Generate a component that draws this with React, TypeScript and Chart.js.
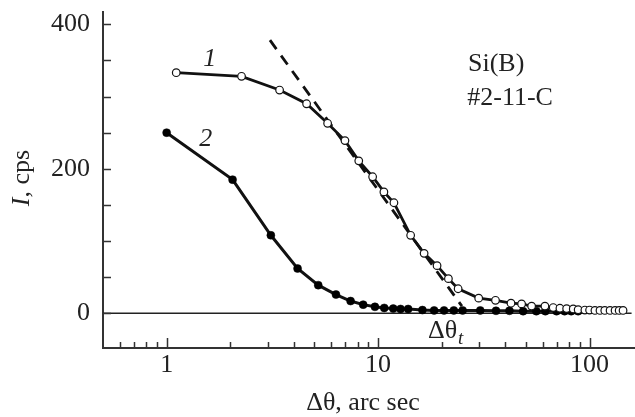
import React, { useEffect, useRef } from "react";
import { Chart, registerables } from "chart.js";

Chart.register(...registerables);

// Curve 1 (open circles)
const curve1X = [1.11, 2.26, 3.42, 4.59, 5.77, 6.97, 8.1, 9.42, 10.65, 11.88, 14.25, 16.5, 19.0, 21.5, 23.9, 29.9, 35.9, 42.5, 47.7, 53.2, 61.5, 67.3, 72.4, 77.9, 83.7, 88.3, 95, 100, 106, 112, 118, 125, 132, 138, 144];
const curve1Y = [333, 328, 309, 290, 263, 239, 211, 189, 168, 153, 108, 83, 66, 48, 34, 21, 18, 14, 13, 10, 10, 8, 7, 6.5, 6, 5, 4.5, 4.5, 4, 4, 4, 4, 4, 4, 4];

// Curve 2 (filled circles)
const curve2X = [1.0, 2.05, 3.11, 4.16, 5.21, 6.32, 7.41, 8.5, 9.66, 10.69, 11.79, 12.77, 13.87, 16.2, 18.4, 20.5, 22.8, 25.1, 30.4, 36.1, 41.8, 48.5, 56, 61.8, 69.8, 76.2, 81.9, 88.3];
const curve2Y = [250, 185, 108, 62, 39, 26, 17, 12, 9, 7.5, 6.5, 6, 6, 4.5, 4, 4, 4, 4, 4, 3.5, 3.5, 3, 3, 3, 3, 3, 3, 3];

// Dashed tangent and zero line
const tangentX = [3.08, 24.9];
const tangentY = [378, 10];
const zeroX = [0.5, 158];
const zeroY = [0, 0];

// Axes
const xMin = 0.5;
const xMax = 164;
const yMin = -48;
const yMax = 417;
const yTicks = [0, 50, 100, 150, 200, 250, 300, 350, 400];
const yLabeled = [0, 200, 400];
const xMajor = [1, 10, 100];
const xMinor = [0.6, 0.7, 0.8, 0.9, 2, 3, 4, 5, 6, 7, 8, 9, 20, 30, 40, 50, 60, 70, 80, 90];

// Annotations (data coordinates)
const label1 = { text: "1", x: 1.6, y: 342 };
const label2 = { text: "2", x: 1.53, y: 231 };
const sample1 = { text: "Si(B)", x: 26.6, y: 335 };
const sample2 = { text: "#2-11-C", x: 26.4, y: 288 };
const thetaT = { x: 17.2, y: -34.6 };

const FONT = '"Liberation Serif", "Times New Roman", serif';
const INK = "#222";

const toPts = (xs: number[], ys: number[]) => xs.map((x, i) => ({ x, y: ys[i] }));

const decor = {
  id: "decor",
  afterDraw(chart: any) {
    const { ctx, chartArea, scales } = chart;
    const xs = scales.x;
    const ys = scales.y;
    ctx.save();
    // inward ticks
    ctx.strokeStyle = "#333";
    ctx.lineWidth = 1.5;
    ctx.beginPath();
    for (const v of yTicks) {
      const py = Math.round(ys.getPixelForValue(v)) + 0.5;
      ctx.moveTo(chartArea.left, py);
      ctx.lineTo(chartArea.left + 8, py);
    }
    for (const v of xMajor) {
      const px = Math.round(xs.getPixelForValue(v)) + 0.5;
      ctx.moveTo(px, chartArea.bottom);
      ctx.lineTo(px, chartArea.bottom - 10);
    }
    for (const v of xMinor) {
      const px = Math.round(xs.getPixelForValue(v)) + 0.5;
      ctx.moveTo(px, chartArea.bottom);
      ctx.lineTo(px, chartArea.bottom - 6);
    }
    ctx.stroke();

    ctx.fillStyle = INK;
    ctx.textBaseline = "alphabetic";
    // curve labels
    ctx.font = `italic 26px ${FONT}`;
    ctx.textAlign = "center";
    ctx.fillText(label1.text, xs.getPixelForValue(label1.x), ys.getPixelForValue(label1.y));
    ctx.fillText(label2.text, xs.getPixelForValue(label2.x), ys.getPixelForValue(label2.y));
    // sample
    ctx.font = `26px ${FONT}`;
    ctx.textAlign = "left";
    ctx.fillText(sample1.text, xs.getPixelForValue(sample1.x), ys.getPixelForValue(sample1.y));
    ctx.fillText(sample2.text, xs.getPixelForValue(sample2.x), ys.getPixelForValue(sample2.y));
    // Δθt
    const tx = xs.getPixelForValue(thetaT.x);
    const ty = ys.getPixelForValue(thetaT.y);
    ctx.font = `26px ${FONT}`;
    ctx.fillText("Δθ", tx, ty);
    const w = ctx.measureText("Δθ").width;
    ctx.font = `italic 19px ${FONT}`;
    ctx.fillText("t", tx + w + 1, ty + 6);

    // x title
    ctx.font = `26px ${FONT}`;
    ctx.textAlign = "center";
    ctx.fillText("Δθ, arc sec", (chartArea.left + chartArea.right) / 2 - 6, 410);

    // y title
    ctx.translate(29, (chartArea.top + chartArea.bottom) / 2 - 2);
    ctx.rotate(-Math.PI / 2);
    ctx.font = `italic 26px ${FONT}`;
    const wI = ctx.measureText("I").width;
    ctx.font = `26px ${FONT}`;
    const wR = ctx.measureText(", cps").width;
    const start = -(wI + wR) / 2;
    ctx.textAlign = "left";
    ctx.font = `italic 26px ${FONT}`;
    ctx.fillText("I", start, 0);
    ctx.font = `26px ${FONT}`;
    ctx.fillText(", cps", start + wI, 0);
    ctx.restore();
  },
};

export default function App() {
  const ref = useRef<HTMLCanvasElement | null>(null);
  useEffect(() => {
    if (!ref.current) return;
    const chart = new Chart(ref.current, {
      type: "scatter",
      data: {
        datasets: [
          {
            data: toPts(curve1X, curve1Y),
            showLine: true,
            borderColor: "#111",
            borderWidth: 2.8,
            pointRadius: 3.8,
            pointBackgroundColor: "#fff",
            pointBorderColor: "#111",
            pointBorderWidth: 1.2,
          },
          {
            data: toPts(curve2X, curve2Y),
            showLine: true,
            borderColor: "#111",
            borderWidth: 3,
            pointRadius: 4,
            pointBackgroundColor: "#000",
            pointBorderColor: "#000",
            pointBorderWidth: 0.5,
          },
          {
            data: toPts(tangentX, tangentY),
            showLine: true,
            borderColor: "#111",
            borderWidth: 2.8,
            borderDash: [11, 8],
            pointRadius: 0,
          },
          {
            data: toPts(zeroX, zeroY),
            showLine: true,
            borderColor: "#222",
            borderWidth: 1.4,
            pointRadius: 0,
          },
        ],
      },
      options: {
        animation: false,
        responsive: false,
        devicePixelRatio: 1,
        layout: { autoPadding: false, padding: { top: 12, left: 0, right: 0, bottom: 0 } },
        plugins: { legend: { display: false }, tooltip: { enabled: false } },
        scales: {
          x: {
            type: "logarithmic",
            min: xMin,
            max: xMax,
            grid: { display: false, drawTicks: false },
            border: { display: true, color: "#333", width: 2 },
            afterBuildTicks: (s: any) => {
              s.ticks = xMajor.map((v) => ({ value: v }));
            },
            afterFit: (s: any) => {
              s.height = 69;
              s.paddingLeft = 0;
              s.paddingRight = 0;
            },
            ticks: {
              autoSkip: false,
              maxRotation: 0,
              padding: 2,
              color: INK,
              font: { family: FONT, size: 26 },
              callback: (v: any) => String(v),
            },
          },
          y: {
            type: "linear",
            min: yMin,
            max: yMax,
            grid: { display: false, drawTicks: false },
            border: { display: true, color: "#333", width: 2 },
            afterBuildTicks: (s: any) => {
              s.ticks = yTicks.map((v) => ({ value: v }));
            },
            afterFit: (s: any) => {
              s.width = 103;
              s.paddingTop = 0;
              s.paddingBottom = 0;
            },
            ticks: {
              autoSkip: false,
              padding: 13,
              color: INK,
              font: { family: FONT, size: 26 },
              callback: (v: any) => (yLabeled.includes(Number(v)) ? String(v) : ""),
            },
          },
        },
      },
      plugins: [decor],
    });
    return () => chart.destroy();
  }, []);
  return (
    <div style={{ position: "fixed", left: 0, top: 0, width: 635, height: 417, background: "#fff" }}>
      <canvas ref={ref} width={635} height={417} style={{ display: "block" }} />
    </div>
  );
}
